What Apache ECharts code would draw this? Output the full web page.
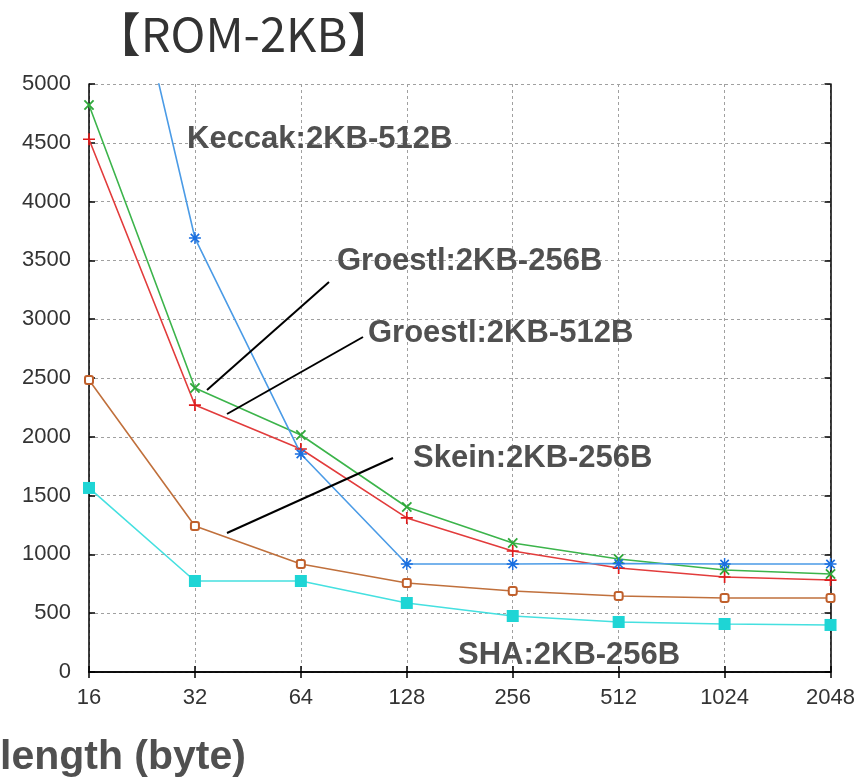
<!DOCTYPE html>
<html>
<head>
<meta charset="utf-8">
<script src="https://cdn.jsdelivr.net/npm/echarts@6/dist/echarts.min.js"></script>
<style>html,body{margin:0;padding:0;background:#fff;}#c{width:858px;height:781px;}</style>
</head>
<body>
<div id="c"></div>
<script>
// ---- data ----
const categories = ['16', '32', '64', '128', '256', '512', '1024', '2048'];
const keccak512  = [7540, 3690, 1854, 918, 918, 922, 918, 918];
const groestl256 = [4821, 2415, 2015, 1403, 1097, 961, 867, 833];
const groestl512 = [4530, 2270, 1896, 1310, 1029, 884, 808, 782];
const skein256   = [2483, 1241, 918, 757, 689, 646, 629, 629];
const sha256     = [1565, 774, 774, 587, 476, 425, 408, 400];
const yTicks = { min: 0, max: 5000, interval: 500 };
const titleText = '【ROM-2KB】';
const xTitle = 'length (byte)';
const notes = ['Keccak:2KB-512B', 'Groestl:2KB-256B', 'Groestl:2KB-512B', 'Skein:2KB-256B', 'SHA:2KB-256B'];

const PLUS = 'path://M4.3,0H5.7V4.3H10V5.7H5.7V10H4.3V5.7H0V4.3H4.3Z';
const STAR = 'path://M4.4,0H5.6V10H4.4Z M0,4.4H10V5.6H0Z M1,2L2,1L9,8L8,9Z M8,1L9,2L2,9L1,8Z';

const labelFont = { fontSize: 22, color: '#333', fontFamily: '"Liberation Sans", Arial, sans-serif' };
const gridLine = { show: true, lineStyle: { color: '#a0a0a0', type: [3, 3], width: 1 } };

function mk(name, data, color, mcolor, symbol, size, extra) {
  return Object.assign({
    name, type: 'line', data, symbol, symbolSize: size,
    lineStyle: { color, width: 1.6 },
    itemStyle: { color: mcolor },
    clip: true, z: 3
  }, extra || {});
}

const chart = echarts.init(document.getElementById('c'), null, { renderer: 'canvas' });
const noteFont = 'bold 31px "Liberation Sans", Arial, sans-serif';
const noteFill = '#505050';
function note(text, x, y) {
  return { type: 'text', x, y, z: 10, style: { text, font: noteFont, fill: noteFill, align: 'left', verticalAlign: 'middle' } };
}
function lead(x1, y1, x2, y2) {
  return { type: 'line', z: 10, shape: { x1, y1, x2, y2 }, style: { stroke: '#000', lineWidth: 2 } };
}

chart.setOption({
  animation: false,
  backgroundColor: '#fff',
  grid: { left: 89, right: 23, top: 84, bottom: 109, containLabel: false },
  xAxis: [{
    type: 'category', data: categories, boundaryGap: false, position: 'bottom',
    axisLine: { show: true, lineStyle: { color: '#000', width: 1.5 } },
    axisTick: { show: true, inside: true, length: 6, lineStyle: { color: '#000', width: 1.5 }, alignWithLabel: true },
    axisLabel: Object.assign({ margin: 15 }, labelFont),
    splitLine: gridLine
  }, {
    type: 'category', data: categories, boundaryGap: false, position: 'top',
    axisLine: { show: true, lineStyle: { color: '#000', width: 1.5 } },
    axisTick: { show: true, inside: true, length: 6, lineStyle: { color: '#000', width: 1.5 } },
    axisLabel: { show: false }, splitLine: { show: false }
  }],
  yAxis: [{
    type: 'value', min: yTicks.min, max: yTicks.max, interval: yTicks.interval, position: 'left',
    axisLine: { show: true, lineStyle: { color: '#000', width: 1.5 } },
    axisTick: { show: true, inside: true, length: 6, lineStyle: { color: '#000', width: 1.5 } },
    axisLabel: Object.assign({ margin: 18, formatter: v => String(v) }, labelFont),
    splitLine: gridLine
  }, {
    type: 'value', min: yTicks.min, max: yTicks.max, interval: yTicks.interval, position: 'right',
    axisLine: { show: true, lineStyle: { color: '#000', width: 1.5 } },
    axisTick: { show: true, inside: true, length: 6, lineStyle: { color: '#000', width: 1.5 } },
    axisLabel: { show: false }, splitLine: { show: false }
  }],
  series: [
    mk('Skein 2KB-256B', skein256, '#c0703c', '#c0602c', 'emptyRoundRect', 8, { itemStyle: { color: '#c0602c', borderWidth: 1.5 } }),
    mk('SHA 2KB-256B', sha256, '#45e0e0', '#1ed5d5', 'rect', 12),
    mk('Groestl 2KB-512B', groestl512, '#e23c3c', '#e01c1c', PLUS, 12),
    mk('Groestl 2KB-256B', groestl256, '#3cb44b', '#2fa83a', PLUS, 13, { symbolRotate: 45 }),
    mk('Keccak 2KB-512B', keccak512, '#4b9be6', '#1a6fe0', STAR, 12)
  ],
  graphic: [
    { type: 'text', x: 244, y: 34, z: 10, style: { text: titleText, font: '47px "Noto Sans CJK JP", sans-serif', fill: '#333', align: 'center', verticalAlign: 'middle' } },
    { type: 'text', x: 0, y: 758, z: 10, style: { text: xTitle, font: 'bold 41px "Liberation Sans", Arial, sans-serif', fill: '#505050', align: 'left', verticalAlign: 'middle' } },
    note(notes[0], 187, 139),
    note(notes[1], 337, 261),
    note(notes[2], 368, 333),
    note(notes[3], 413, 458),
    note(notes[4], 458, 655),
    lead(207, 390, 329, 282),
    lead(227, 414, 363, 337),
    lead(227, 533, 393, 458)
  ]
});
</script>
</body>
</html>
